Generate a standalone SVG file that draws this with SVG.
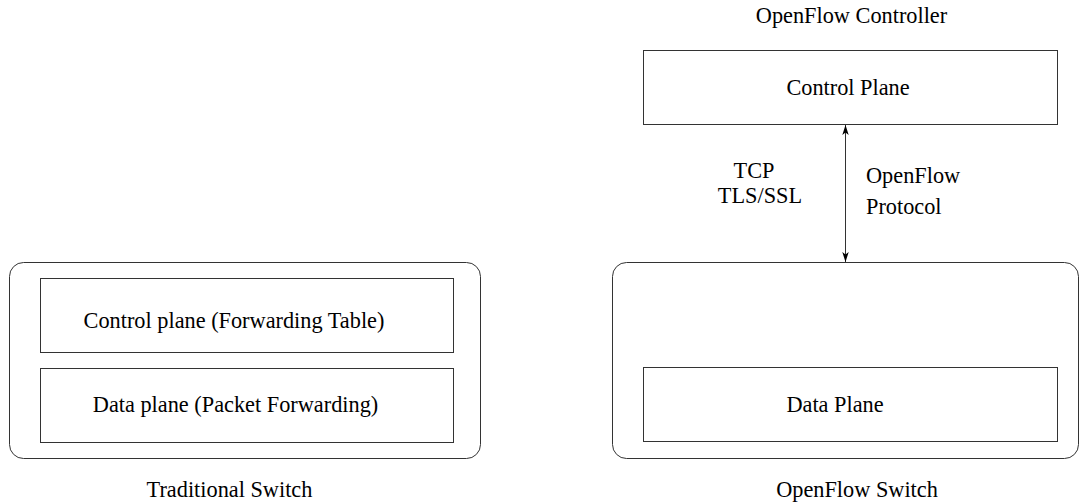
<svg xmlns="http://www.w3.org/2000/svg" width="1079" height="504" viewBox="0 0 1079 504">
<style>
text{font-family:'Liberation Serif','Times New Roman','DejaVu Serif',serif;font-size:22.3px;fill:#000}
.box{fill:none;stroke:#333;stroke-width:1}
.c{text-anchor:middle}
</style>
<defs>
<marker id="ah" viewBox="0 0 10 10" refX="10" refY="5" markerWidth="10" markerHeight="10" markerUnits="userSpaceOnUse" orient="auto-start-reverse">
<path d="M0,1.8 L10,5 L0,8.2 L2.5,5 Z" fill="#000"/>
</marker>
</defs>
<rect width="1079" height="504" fill="#fff"/>
<g id="traditional-switch">
<rect class="box" x="9.5" y="262.5" width="471" height="196" rx="14"/>
<text class="c" x="229.5" y="497">Traditional Switch</text>
</g>
<g id="control-plane-ft">
<rect class="box" x="40.5" y="278.5" width="413" height="74"/>
<text class="c" x="234" y="328">Control plane (Forwarding Table)</text>
</g>
<g id="data-plane-pf">
<rect class="box" x="40.5" y="368.5" width="413" height="74"/>
<text class="c" x="235.5" y="412">Data plane (Packet Forwarding)</text>
</g>
<g id="openflow-controller">
<text class="c" x="851.5" y="23">OpenFlow Controller</text>
<rect class="box" x="643.5" y="50.5" width="414" height="74"/>
<text class="c" x="848" y="95">Control Plane</text>
</g>
<g id="openflow-switch">
<rect class="box" x="612.5" y="262.5" width="466" height="196" rx="14"/>
<text class="c" x="857" y="497">OpenFlow Switch</text>
</g>
<g id="data-plane">
<rect class="box" x="643.5" y="367.5" width="414" height="74"/>
<text class="c" x="835" y="412">Data Plane</text>
</g>
<g id="connectors">
<line x1="845.5" y1="125" x2="845.5" y2="262" stroke="#333" stroke-width="1" marker-start="url(#ah)" marker-end="url(#ah)"/>
<text class="c" x="754" y="178">TCP</text>
<text class="c" x="760" y="203">TLS/SSL</text>
<text x="866" y="183">OpenFlow</text>
<text x="866" y="214">Protocol</text>
</g>
</svg>
